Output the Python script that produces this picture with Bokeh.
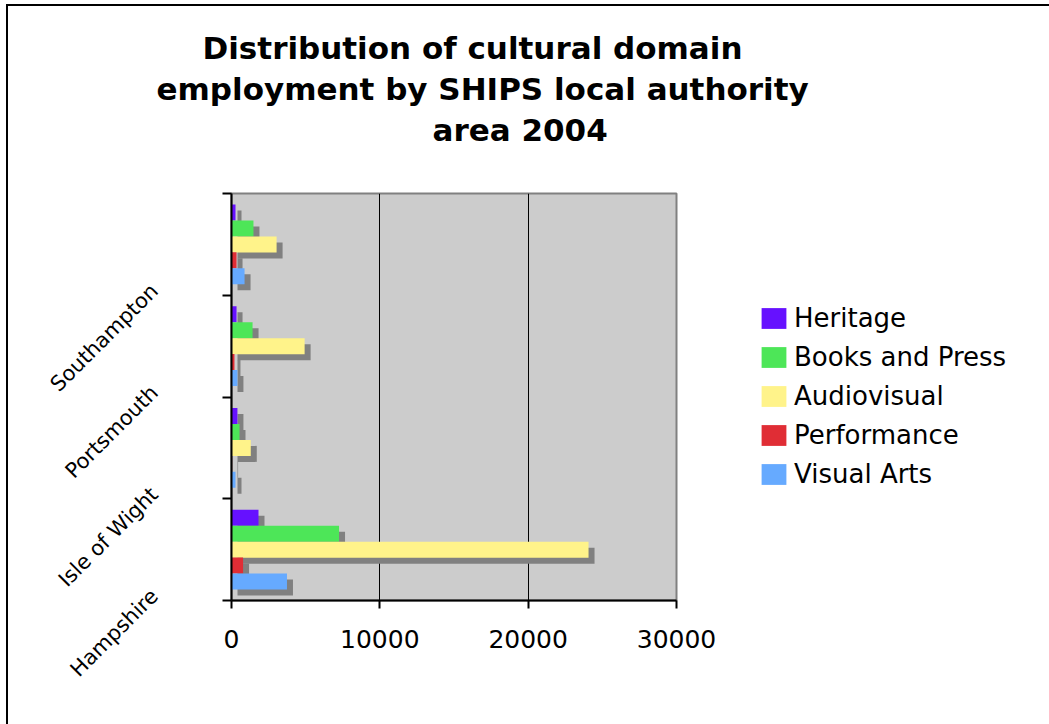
import numpy as np
from bokeh.plotting import figure
from bokeh.models import (ColumnDataSource, Range1d, LinearAxis, FixedTicker,
                          CustomJSTickFormatter, Legend, LegendItem, Title)
from bokeh.embed import file_html
from bokeh.resources import INLINE

# ---------------- data ----------------
regions = ["Hampshire", "Isle of Wight", "Portsmouth", "Southampton"]
series_names = ["Heritage", "Books and Press", "Audiovisual", "Performance", "Visual Arts"]
heritage = [1820, 400, 340, 270]
books_and_press = [7250, 540, 1420, 1480]
audiovisual = [24070, 1300, 4930, 3040]
performance = [780, 40, 200, 340]
visual_arts = [3740, 270, 400, 880]
x_ticks = [0, 10000, 20000, 30000]
title_lines = ["Distribution of cultural domain",
               "employment by SHIPS local authority",
               "area 2004"]

series_values = [heritage, books_and_press, audiovisual, performance, visual_arts]
colors = ["#6611FF", "#4DE658", "#FFF38A", "#E02D35", "#66AAFF"]
shadow_color = "#808080"

# ---------------- layout constants ----------------
FW, FH = 445, 407
XMAX = 30000
n = len(regions)
ux = XMAX / FW          # data units per px (x)
uy = n / FH             # data units per px (y)
bar_h = 16 * uy
pitch = 15.9 * uy
sdx = 6 * ux
sdy = 6 * uy

p = figure(frame_width=FW, frame_height=FH,
           x_range=Range1d(0, XMAX), y_range=Range1d(0, n),
           output_backend="svg", toolbar_location=None, title=None,
           min_border_left=223, min_border_top=187,
           min_border_right=1041 - 223 - FW, min_border_bottom=718 - 187 - FH)
p.styles = {"margin-left": "6px", "margin-top": "4px",
            "border-left": "2px solid black", "border-top": "2px solid black"}

p.background_fill_color = "#CCCCCC"
p.border_fill_color = "white"
p.outline_line_color = "#808080"
p.outline_line_width = 2

# shadows first, then bars
srcs = []
for i, vals in enumerate(series_values):
    off = (2 - i) * pitch
    ys = [k + 0.5 + off for k in range(n)]
    v = np.array(vals, dtype=float)
    srcs.append(ColumnDataSource(dict(
        y=ys, right=v, left=[0.0] * n,
        sy=[y - sdy for y in ys], sleft=[sdx] * n, sright=list(v + sdx))))

for src in srcs:
    p.hbar(y="sy", left="sleft", right="sright", height=bar_h,
           fill_color=shadow_color, line_color=None, source=src)

bar_renderers = []
for src, c in zip(srcs, colors):
    r = p.hbar(y="y", left="left", right="right", height=bar_h,
               fill_color=c, line_color=None, source=src)
    bar_renderers.append(r)

# x axis
xa = p.xaxis[0]
xa.ticker = FixedTicker(ticks=x_ticks, minor_ticks=[])
xa.axis_line_width = 2
xa.axis_line_color = "black"
xa.major_tick_line_width = 2
xa.major_tick_line_color = "black"
xa.major_tick_out = 8
xa.major_tick_in = 0
xa.major_label_standoff = 21
xa.major_label_text_font = "DejaVu Sans"
xa.major_label_text_font_size = "25px"
xa.major_label_text_color = "black"

# y axis: ticks at category boundaries only
ya = p.yaxis[0]
ya.ticker = FixedTicker(ticks=list(range(n + 1)), minor_ticks=[])
ya.formatter = CustomJSTickFormatter(code="return '';")
ya.axis_line_width = 2
ya.axis_line_color = "black"
ya.major_tick_line_width = 2
ya.major_tick_line_color = "black"
ya.major_tick_out = 9
ya.major_tick_in = 0
ya.major_label_standoff = 0

# category label axis (rotated)
shift = 43 * uy
p.extra_y_ranges = {"lab": Range1d(shift, n + shift)}
la = LinearAxis(y_range_name="lab",
                ticker=FixedTicker(ticks=[k + 0.5 for k in range(n)], minor_ticks=[]),
                formatter=CustomJSTickFormatter(args=dict(names=regions),
                                                code="return names[Math.floor(tick)] || '';"),
                major_label_orientation=np.pi / 4,
                axis_line_color=None, major_tick_line_color=None,
                minor_tick_line_color=None, major_label_standoff=62,
                major_label_text_font="DejaVu Sans",
                major_label_text_font_size="21px",
                major_label_text_color="black")
p.add_layout(la, "left")

p.xgrid.ticker = FixedTicker(ticks=x_ticks)
p.xgrid.grid_line_color = "black"
p.xgrid.grid_line_width = 1
p.ygrid.visible = False

# legend (in the right panel, shifted away from the frame)
items = [LegendItem(label=nm, renderers=[r]) for nm, r in zip(series_names, bar_renderers)]
legend = Legend(items=items, location=(82, 111), border_line_color=None,
                background_fill_alpha=0, glyph_width=31, glyph_height=26,
                label_standoff=5, spacing=9, padding=0, margin=0,
                label_text_font="DejaVu Sans", label_text_font_size="26px",
                label_text_color="black")
p.add_layout(legend, "right")

# title: spacer closest to frame, then lines 3, 2, 1
spacer = Title(text=" ", text_font_size="20px", standoff=20)
p.add_layout(spacer, "above")
frame_left_abs = 231
title_lefts = [202, 156, 432]
for txt, lft in reversed(list(zip(title_lines, title_lefts))):
    t = Title(text=txt, align="left", offset=lft - frame_left_abs, standoff=3,
              text_font="DejaVu Sans", text_font_style="bold",
              text_font_size="31px", text_color="black")
    p.add_layout(t, "above")

open("out.html", "w").write(file_html(p, INLINE))
